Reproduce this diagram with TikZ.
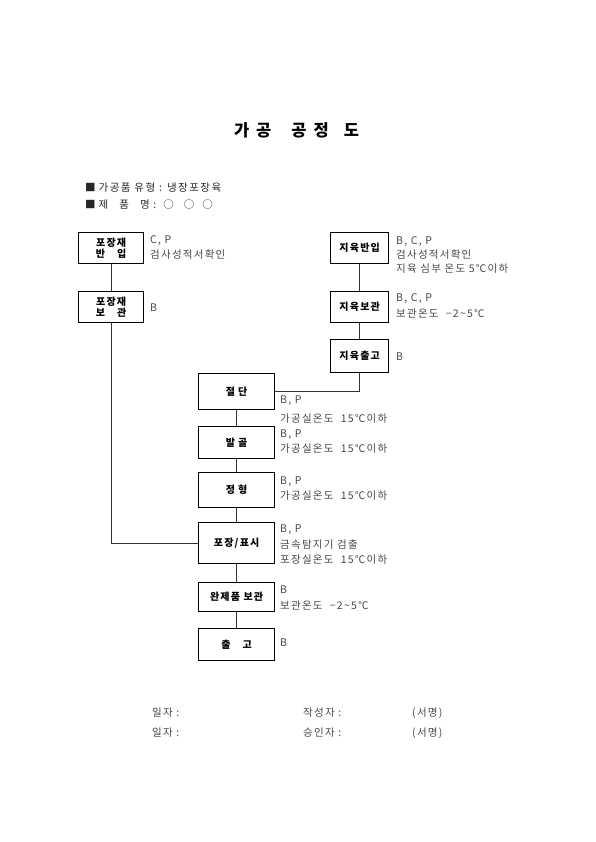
\documentclass[tikz,border=0pt]{standalone}
\usepackage{fontspec}
\setmainfont{Noto Sans CJK KR}
\newcommand\tld{\string~}
\begin{document}
\begin{tikzpicture}[x=1pt,y=-1pt,
  box/.style={draw=black,line width=1.3pt,fill=white,anchor=north west,inner sep=0pt,
    font=\fontsize{10}{12}\selectfont\bfseries\addfontfeature{LetterSpace=12},align=center},
  note/.style={anchor=west,inner sep=0pt,text=black!72,
    font=\fontsize{10.5}{12}\selectfont\addfontfeature{LetterSpace=12}},
  head/.style={anchor=west,inner sep=0pt,text=black!85,
    font=\fontsize{10.5}{12}\selectfont\addfontfeature{LetterSpace=14}},
  conn/.style={line width=1.3pt,draw=black!80}]
\useasboundingbox (0,0) rectangle (595,842);

% title
\node[inner sep=0pt,font=\fontsize{16.5}{19}\selectfont\bfseries] (title) at (296.5,130)
  {가\hspace{7pt}공\hspace{20pt}공\hspace{7pt}정\hspace{15pt}도};

% header
\node[head] (h1) at (85,188) {■\hspace{3pt}가공품 유형 : 냉장포장육};
\node[head] (h2) at (85,205) {■\hspace{3pt}제\hspace{11pt}품\hspace{11pt}명 :\hspace{7pt}○\hspace{10pt}○\hspace{8pt}○};

% boxes
\node[box,minimum width=65pt,minimum height=31pt] (pa) at (78,232) {포장재\\[-1pt]반\hspace{12pt}입};
\node[box,minimum width=65pt,minimum height=31pt] (pb) at (78,291) {포장재\\[-1pt]보\hspace{12pt}관};
\node[box,minimum width=58pt,minimum height=31pt] (ja) at (330,232) {지육반입};
\node[box,minimum width=58pt,minimum height=31pt] (jb) at (330,291) {지육보관};
\node[box,minimum width=58pt,minimum height=33pt] (jc) at (330,339) {지육출고};
\node[box,minimum width=76pt,minimum height=36pt] (c1) at (198,373) {절\hspace{3pt}단};
\node[box,minimum width=76pt,minimum height=32pt] (c2) at (198,426) {발\hspace{3pt}골};
\node[box,minimum width=76pt,minimum height=35pt] (c3) at (198,472) {정\hspace{3pt}형};
\node[box,minimum width=76pt,minimum height=41pt] (c4) at (198,522) {포장/표시};
\node[box,minimum width=76pt,minimum height=29pt] (c5) at (198,582) {완제품 보관};
\node[box,minimum width=76pt,minimum height=32pt] (c6) at (198,628) {출\hspace{12pt}고};

% connectors
\draw[conn] (pa.south) -- (pb.north);
\draw[conn] (pb.south) |- (c4.west);
\draw[conn] (ja.south) -- (jb.north);
\draw[conn] (jb.south) -- (jc.north);
\draw[conn] (c1.east) -| (jc.south);
\draw[conn] (c1.south) -- (c2.north);
\draw[conn] (c2.south) -- (c3.north);
\draw[conn] (c3.south) -- (c4.north);
\draw[conn] (c4.south) -- (c5.north);
\draw[conn] (c5.south) -- (c6.north);

% notes
\node[note] (npa1) at (150,241) {C, P};
\node[note] (npa2) at (150,255) {검사성적서확인};
\node[note] (npb1) at (150,308) {B};
\node[note] (nja1) at (396,242) {B, C, P};
\node[note] (nja2) at (396,255) {검사성적서확인};
\node[note] (nja3) at (396,269) {지육 심부 온도 5℃이하};
\node[note] (njb1) at (396,299) {B, C, P};
\node[note] (njb2) at (396,313) {보관온도 \ −2\tld5℃};
\node[note] (njc1) at (396,357) {B};
\node[note] (nc11) at (280,401) {B, P};
\node[note] (nc12) at (280,419) {가공실온도 \ 15℃이하};
\node[note] (nc21) at (280,435) {B, P};
\node[note] (nc22) at (280,449) {가공실온도 \ 15℃이하};
\node[note] (nc31) at (280,482) {B, P};
\node[note] (nc32) at (280,496) {가공실온도 \ 15℃이하};
\node[note] (nc41) at (280,530) {B, P};
\node[note] (nc42) at (280,545) {금속탐지기 검출};
\node[note] (nc43) at (280,560) {포장실온도 \ 15℃이하};
\node[note] (nc51) at (280,590) {B};
\node[note] (nc52) at (280,605) {보관온도 \ −2\tld5℃};
\node[note] (nc61) at (280,643) {B};

% footer
\node[note] (f1) at (152,713) {일자 :};
\node[note] (f2) at (303,713) {작성자 :};
\node[note] (f3) at (412,713) {(서명)};
\node[note] (f4) at (152,733) {일자 :};
\node[note] (f5) at (303,733) {승인자 :};
\node[note] (f6) at (412,733) {(서명)};
\end{tikzpicture}
\end{document}
